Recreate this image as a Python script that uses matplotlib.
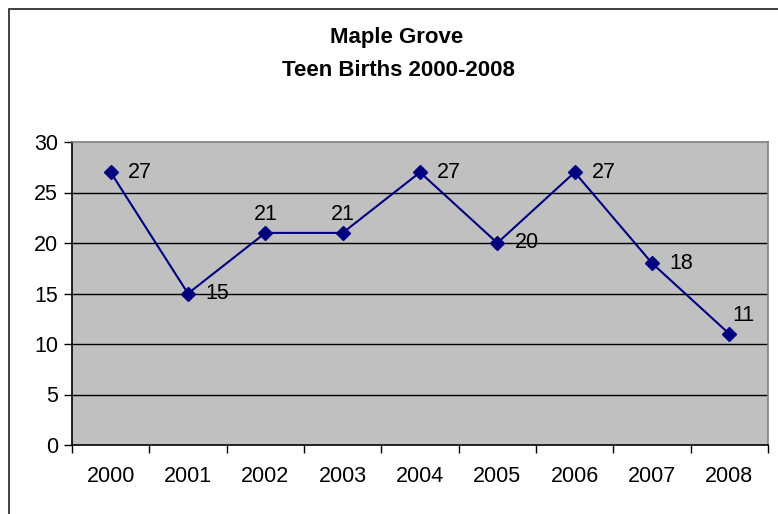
import matplotlib
matplotlib.use("Agg")
import matplotlib.pyplot as plt
from matplotlib.patches import Rectangle

plt.rcParams['font.family'] = ['Liberation Sans', 'DejaVu Sans']

years = ['2000', '2001', '2002', '2003', '2004', '2005', '2006', '2007', '2008']
births = [27, 15, 21, 21, 27, 20, 27, 18, 11]
# data label placement: 'r' = right of the point, 't' = above, 'tr' = above and a bit right
label_pos = ['r', 'r', 't', 't', 'r', 'r', 'r', 'r', 'tr']

fig = plt.figure(figsize=(7.78, 5.14), dpi=100)
fig.patches.append(Rectangle((9/778, -0.1), 1.0, (514-9)/514 + 0.1,
                             transform=fig.transFigure, fill=False,
                             edgecolor='#202020', linewidth=1.2))

ax = fig.add_axes([72/778, (514-445)/514, (768-72)/778, (445-142)/514])
ax.set_facecolor('#C0C0C0')

x = list(range(len(years)))
ax.plot(x, births, color='#000080', linewidth=1.5, marker='D',
        markersize=7, markerfacecolor='#000080', markeredgecolor='#000080', zorder=3)

for xi, v, p in zip(x, births, label_pos):
    if p == 'r':
        ax.annotate(str(v), (xi, v), xytext=(12.5, 0), textcoords='offset points',
                    ha='left', va='center', fontsize=15.5)
    else:
        dx = 10 if p == 'tr' else 0
        ax.annotate(str(v), (xi, v), xytext=(dx, 6), textcoords='offset points',
                    ha='center', va='bottom', fontsize=15.5)

ax.set_xlim(-0.5, len(years) - 0.5)
ax.set_ylim(0, 30)
ax.set_yticks(range(0, 31, 5))
ax.set_xticks(x)
ax.set_xticklabels(years)
ax.set_xticks([i - 0.5 for i in range(len(years) + 1)], minor=True)
ax.tick_params(axis='x', which='major', length=0, pad=15, labelsize=15.5)
ax.tick_params(axis='x', which='minor', length=6, width=1, direction='out')
ax.tick_params(axis='y', length=6, width=1, direction='out', pad=4, labelsize=15.5)

for yv in range(5, 30, 5):
    ax.axhline(yv, color='black', linewidth=1, zorder=1)

ax.spines['top'].set_color('#808080')
ax.spines['right'].set_color('#808080')
ax.spines['left'].set_color('black')
ax.spines['bottom'].set_color('black')
for s in ax.spines.values():
    s.set_linewidth(1.2)

fig.text(397/778, 1 - 38/514, 'Maple Grove', ha='center', va='center',
         fontsize=16, fontweight='bold')
fig.text(398/778, 1 - 70/514, 'Teen Births 2000-2008', ha='center', va='center',
         fontsize=16, fontweight='bold')

fig.savefig('out.png', dpi=100)
